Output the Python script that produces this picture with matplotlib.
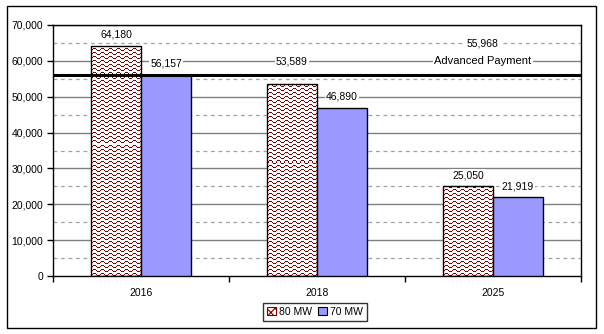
import numpy as np
import matplotlib
matplotlib.use('Agg')
import matplotlib.pyplot as plt
from matplotlib.patches import Patch, Rectangle

plt.rcParams['font.family'] = ['Liberation Sans', 'DejaVu Sans']
plt.rcParams['hatch.linewidth'] = 0.8

years = ['2016', '2018', '2025']
mw80 = [64180, 53589, 25050]
mw70 = [56157, 46890, 21919]
advanced_payment = 55968

fig = plt.figure(figsize=(6.04, 3.34), dpi=100)
ax = fig.add_axes([53 / 604, 58 / 334, 528 / 604, 251 / 334])

# outer chart border
fig.patches.append(Rectangle((7 / 604, 6 / 334), 589 / 604, 322 / 334,
                             transform=fig.transFigure, fill=False,
                             edgecolor='black', linewidth=1))

x = np.arange(len(years))
w = 0.284

# gridlines: solid majors, dashed half-steps
for v in range(10000, 70001, 10000):
    ax.axhline(v, color='#808080', linewidth=1, zorder=1)
for v in range(5000, 70000, 10000):
    ax.axhline(v, color='#a0a0a0', linewidth=0.9, linestyle=(0, (3, 3)), zorder=1)

b80 = ax.bar(x - w / 2, mw80, w, facecolor='none', edgecolor='black', linewidth=1, zorder=3)
b70 = ax.bar(x + w / 2, mw70, w, color='#9999ff', edgecolor='black', linewidth=1, zorder=3)

# wave fill for the 80 MW bars
tile = np.array([[1, 1, 1, 0, 0, 0, 0, 0],
                 [0, 0, 0, 1, 0, 0, 0, 1],
                 [0, 0, 0, 0, 1, 1, 1, 0],
                 [0, 0, 0, 0, 0, 0, 0, 0]])
mask = np.tile(tile, (251 // 4 + 1, 528 // 8 + 1))[:251, :528]
img = np.ones((251, 528, 3))
img[mask == 1] = [0.5, 0, 0]
for bar in b80:
    im = ax.imshow(img, extent=(0, 1, 0, 1), transform=ax.transAxes,
                   aspect='auto', interpolation='nearest', zorder=2.5)
    im.set_clip_path(bar)

ax.axhline(advanced_payment, color='black', linewidth=2.2, zorder=4)

lbl = dict(ha='center', va='center', fontsize=7.5, textcoords='offset points',
           bbox=dict(facecolor='white', edgecolor='none', pad=1), zorder=5)
# 2018 80 MW label lifted above the payment line
lift80 = [8, 16, 8]
for i in range(len(years)):
    ax.annotate(f'{mw80[i]:,}', (x[i] - w / 2, mw80[i]), xytext=(0, lift80[i]), **lbl)
    ax.annotate(f'{mw70[i]:,}', (x[i] + w / 2, mw70[i]), xytext=(0, 8), **lbl)

ax.annotate(f'{advanced_payment:,}', (1.943, advanced_payment), xytext=(0, 23), **lbl)
ax.annotate('Advanced Payment', (1.943, advanced_payment), xytext=(0, 10.5),
            **{**lbl, 'fontsize': 8})

ax.set_xlim(-0.5, 2.5)
ax.set_ylim(0, 70000)
ax.set_yticks(range(0, 70001, 10000))
ax.set_yticklabels([f'{v:,}' for v in range(0, 70001, 10000)], fontsize=7.5)
ax.set_xticks([-0.5, 0.5, 1.5, 2.5])
ax.set_xticklabels([])
ax.set_xticks(x, years, minor=True, fontsize=7.5)
ax.tick_params(axis='x', which='minor', length=0, pad=9)
ax.tick_params(axis='both', which='major', length=4, width=1, direction='out')
ax.tick_params(axis='y', pad=3)
for s in ax.spines.values():
    s.set_linewidth(1)

handles = [Patch(facecolor='white', edgecolor='#800000', hatch='xxxx', linewidth=0.8),
           Patch(facecolor='#9999ff', edgecolor='black', linewidth=0.8)]
leg = fig.legend(handles, ['80 MW', '70 MW'], loc='center', bbox_to_anchor=(315 / 604, 1 - 312 / 334),
                 ncol=2, fontsize=7.5, frameon=True, fancybox=False, edgecolor='black',
                 handlelength=0.8, handleheight=0.8, handletextpad=0.3, columnspacing=0.6,
                 borderpad=0.4, borderaxespad=0)
leg.get_frame().set_linewidth(1)

fig.savefig('out.png', dpi=100)
